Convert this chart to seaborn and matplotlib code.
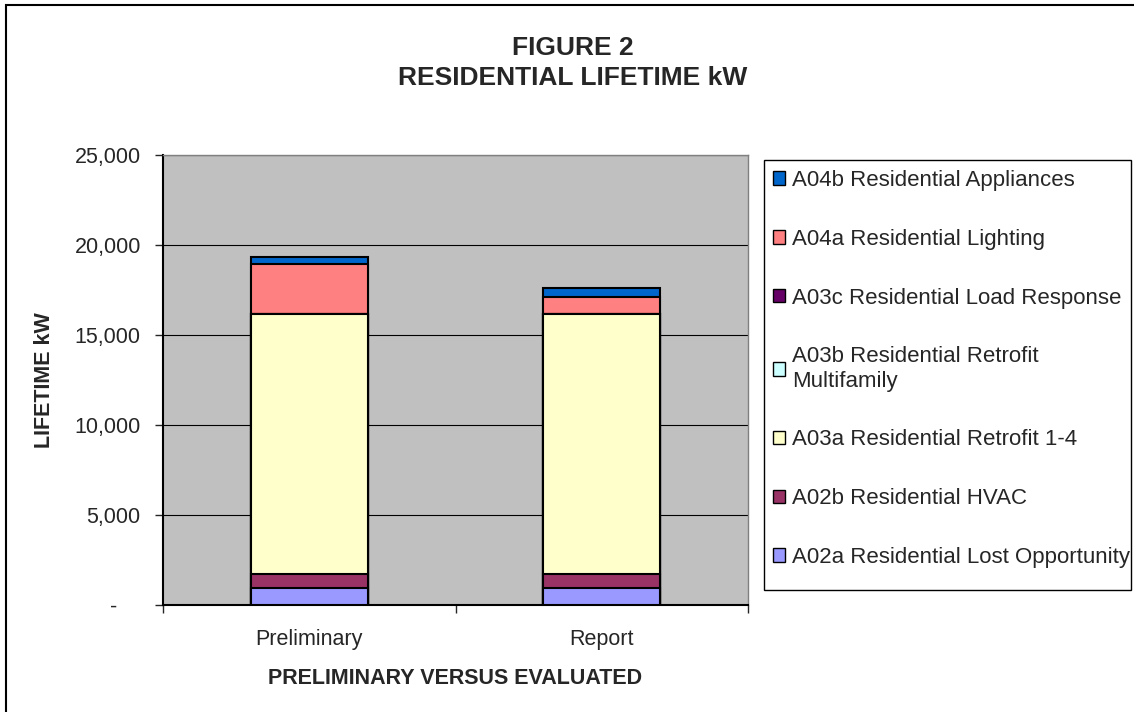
import numpy as np
import pandas as pd
import seaborn as sns
import matplotlib.pyplot as plt
from matplotlib.patches import Patch, Rectangle
from matplotlib.ticker import FuncFormatter, FixedLocator

sns.set_style("white")
plt.rcParams['font.family'] = ['Liberation Sans', 'DejaVu Sans']

# Data (lifetime kW)
stages = ["Preliminary", "Report"]
programs = ["A02a Residential Lost Opportunity",
            "A02b Residential HVAC",
            "A03a Residential Retrofit 1-4",
            "A03b Residential Retrofit\nMultifamily",
            "A03c Residential Load Response",
            "A04a Residential Lighting",
            "A04b Residential Appliances"]
lost_opp = [950, 950]
hvac = [750, 750]
retrofit_14 = [14450, 14450]
retrofit_mf = [0, 0]
load_resp = [0, 0]
lighting = [2800, 950]
appliances = [400, 500]
colors = ["#9999FF", "#993366", "#FFFFCC", "#CCFFFF", "#660066", "#FF8080", "#0066CC"]

series = [lost_opp, hvac, retrofit_14, retrofit_mf, load_resp, lighting, appliances]
rows = []
for prog, vals in zip(programs, series):
    for st, v in zip(stages, vals):
        rows.append({"stage": st, "program": prog, "kw": v})
df = pd.DataFrame(rows)
df["program"] = pd.Categorical(df["program"], categories=programs, ordered=True)
df = df.sort_values(["stage", "program"])
df["cum"] = df.groupby("stage")["kw"].cumsum()

W, H = 1134, 712
fig = plt.figure(figsize=(W / 100, H / 100), dpi=100)
ax = fig.add_axes([163 / W, 1 - 605 / H, (748 - 163) / W, (605 - 155) / H])
ax.set_facecolor("#C0C0C0")

# stacked bars: draw cumulative totals from the top segment down
for prog, col in reversed(list(zip(programs, colors))):
    sub = df[df["program"] == prog]
    sns.barplot(data=sub, x="stage", y="cum", order=stages, color=col,
                saturation=1, width=0.4, edgecolor="black", linewidth=1.5,
                errorbar=None, ax=ax, zorder=3)

ax.set_xlim(-0.5, 1.5)
ax.set_ylim(0, 25000)
ax.set_yticks(np.arange(0, 25001, 5000))
ax.yaxis.set_major_formatter(FuncFormatter(lambda v, p: "-    " if v == 0 else f"{v:,.0f}"))
ax.grid(axis="y", color="black", linewidth=0.8, zorder=0)
ax.set_axisbelow(True)

ax.tick_params(axis="y", direction="out", length=6, width=1, pad=10, labelsize=15.5, left=True)
ax.tick_params(axis="x", which="major", length=0, pad=17, labelsize=15.5)
ax.xaxis.set_minor_locator(FixedLocator([-0.5, 0.5, 1.5]))
ax.tick_params(axis="x", which="minor", direction="out", length=6, width=1, bottom=True)

for side in ["left", "bottom"]:
    ax.spines[side].set_color("black")
    ax.spines[side].set_linewidth(1.5)
for side in ["top", "right"]:
    ax.spines[side].set_color("#808080")
    ax.spines[side].set_linewidth(1)

ax.set_xlabel("PRELIMINARY VERSUS EVALUATED", fontsize=15.5, fontweight="bold")
ax.set_ylabel("LIFETIME kW", fontsize=15.5, fontweight="bold")
ax.xaxis.set_label_coords(0.5, (605 - 668) / 450)
ax.yaxis.set_label_coords((55 - 163) / 585, 0.5)

fig.text(573 / W, 1 - 63 / H, "FIGURE 2\nRESIDENTIAL LIFETIME kW", ha="center",
         va="center", fontsize=19, fontweight="bold", linespacing=1.35)

# legend (top segment first)
handles = [Patch(facecolor=c, edgecolor="black", linewidth=1) for c in colors][::-1]
labels = programs[::-1]
fig.legend(handles, labels, loc="upper left",
           bbox_to_anchor=(773 / W, 1 - 170 / H), frameon=False,
           fontsize=16, borderpad=0, borderaxespad=0, labelspacing=1.70,
           handlelength=0.55, handleheight=0.55, handletextpad=0.32)
fig.patches.append(Rectangle((764 / W, 1 - 590 / H), (1131 - 764) / W, (590 - 160) / H,
                             transform=fig.transFigure, fill=False,
                             edgecolor="black", linewidth=1))

# outer chart border
fig.patches.append(Rectangle((6 / W, -0.1), 1.2, 1.1 - 5 / H,
                             transform=fig.transFigure, fill=False,
                             edgecolor="black", linewidth=1.5))

fig.savefig("out.png", dpi=100)
